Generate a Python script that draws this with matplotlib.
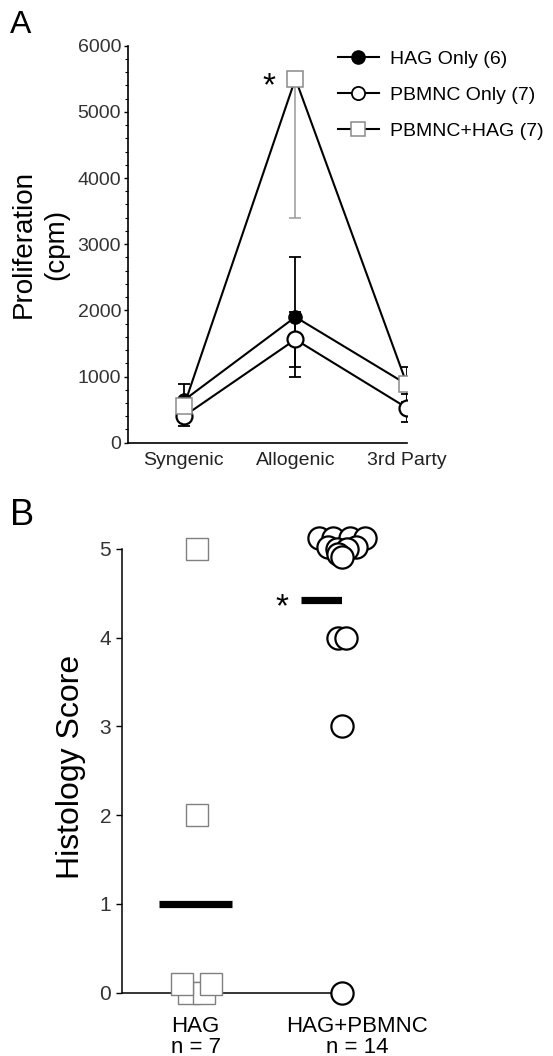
import numpy as np
import matplotlib
matplotlib.use('Agg')
import matplotlib.pyplot as plt
from matplotlib.lines import Line2D
from matplotlib.ticker import MultipleLocator

plt.rcParams['font.family'] = ['Liberation Sans', 'DejaVu Sans']

# ---------------- Panel A data ----------------
conditions = ['Syngenic', 'Allogenic', '3rd Party']
series_names = ['HAG Only (6)', 'PBMNC Only (7)', 'PBMNC+HAG (7)']
hag_only = [640, 1900, 880]
hag_only_err_lo = [250, 900, 270]
hag_only_err_hi = [250, 900, 270]
pbmnc_only = [400, 1560, 525]
pbmnc_only_err_lo = [150, 410, 210]
pbmnc_only_err_hi = [150, 410, 210]
pbmnc_hag = [550, 5500, 880]
pbmnc_hag_err_lo = [0, 2100, 0]
pbmnc_hag_err_hi = [0, 0, 0]
yticks_A = [0, 1000, 2000, 3000, 4000, 5000, 6000]

# ---------------- Panel B data ----------------
groups = ['HAG\nn = 7', 'HAG+PBMNC\nn = 14']
hag_scores = [5, 2, 0, 0, 0, 0]
hag_scores_zero_top = [0]  # stacked display of the 4 zero squares handled below
hag_all = [5, 2, 0, 0, 0, 0, 0]
hag_pbmnc_scores = [0, 3, 4, 4, 5, 5, 5, 5, 5, 5, 5, 5, 5, 5]
group_means = [1.0, 4.43]

W, H = 553, 1056
fig = plt.figure(figsize=(W / 100, H / 100), dpi=100)

def px_rect(l, t, r, b):
    return [l / W, 1 - b / H, (r - l) / W, (b - t) / H]

# ================= Panel A =================
axA = fig.add_axes(px_rect(128, 45.7, 407, 442.7))
x = np.arange(len(conditions))

# error bars
axA.errorbar(x, pbmnc_only, yerr=[pbmnc_only_err_lo, pbmnc_only_err_hi], fmt='none',
             ecolor='black', elinewidth=1.3, capsize=4.5, capthick=1.3, zorder=2)
axA.errorbar(x, hag_only, yerr=[hag_only_err_lo, hag_only_err_hi], fmt='none',
             ecolor='black', elinewidth=1.3, capsize=4.5, capthick=1.3, zorder=2)
axA.errorbar(x, pbmnc_hag, yerr=[pbmnc_hag_err_lo, pbmnc_hag_err_hi], fmt='none',
             ecolor='#9a9a9a', elinewidth=1.1, capsize=4.5, capthick=1.1, zorder=2)

axA.plot(x, pbmnc_only, '-', color='black', lw=1.5, marker='o', ms=11.5,
         mfc='white', mec='black', mew=1.6, zorder=3)
axA.plot(x, hag_only, '-', color='black', lw=1.5, marker='o', ms=9.5,
         mfc='black', mec='black', mew=1.0, zorder=4)
axA.plot(x, pbmnc_hag, '-', color='black', lw=1.5, marker='s', ms=12,
         mfc='white', mec='#8a8a8a', mew=1.1, zorder=5)

axA.set_xlim(-0.5, 2.0)
axA.set_ylim(0, 6000)
axA.set_yticks(yticks_A)
axA.yaxis.set_minor_locator(MultipleLocator(200))
axA.set_xticks(x)
axA.set_xticklabels(conditions)
for s in ['top', 'right']:
    axA.spines[s].set_visible(False)
for s in ['left', 'bottom']:
    axA.spines[s].set_linewidth(1.2)
axA.tick_params(axis='y', which='major', direction='out', length=3, width=1,
                labelsize=14, pad=2, labelcolor='#333333')
axA.tick_params(axis='y', which='minor', direction='out', length=2, width=0.8)
axA.tick_params(axis='x', length=0, pad=7, labelsize=14, labelcolor='#222222')

axA.annotate('*', xy=(1, pbmnc_hag[1]), xytext=(-19, -6), textcoords='offset points',
             ha='center', va='center', fontsize=24)

handles = [
    Line2D([], [], color='black', lw=1.5, marker='o', ms=9.5, mfc='black', mec='black'),
    Line2D([], [], color='black', lw=1.5, marker='o', ms=9.5, mfc='white', mec='black', mew=1.3),
    Line2D([], [], color='black', lw=1.5, marker='s', ms=9.5, mfc='white', mec='#8a8a8a', mew=1.1),
]
fig.legend(handles, series_names, loc='upper left',
           bbox_to_anchor=(338 / W, 1 - 50 / H), frameon=False, fontsize=14,
           handlelength=2.1, handletextpad=0.55, labelspacing=0.95, borderpad=0,
           borderaxespad=0)

fig.text(40 / W, 1 - 244 / H, 'Proliferation\n(cpm)', rotation=90, ha='center',
         va='center', fontsize=20, linespacing=1.3)
fig.text(10 / W, 1 - 10 / H, 'A', ha='left', va='top', fontsize=23)

# ================= Panel B =================
axB = fig.add_axes(px_rect(122.3, 549, 342, 992.7))
ppx = 147.0  # pixels per category unit (display spacing helper)

# HAG squares: display offsets (dx in px, dy in score units) for overlapping points
hag_offsets = [(1, 0), (1, 0), (-7, 0), (8.3, 0), (-13.3, 0.1), (15.5, 0.1), (0, 0)]
for v, (dx, dy) in list(zip(hag_all, hag_offsets))[:6]:
    axB.plot(0 + dx / ppx, v + dy, marker='s', ms=16.5, mfc='white', mec='#808080',
             mew=1.0, clip_on=False, zorder=3, ls='none')

circ_offsets = [(0, 0), (0, 0), (-4.5, 0), (4, 0),
                (-23, 0.12), (-9, 0.12), (8, 0.12), (23, 0.12),
                (-14, 0.02), (14, 0.02), (-5, 0.0), (5, 0.0),
                (-4, -0.06), (0, -0.09)]
for v, (dx, dy) in zip(hag_pbmnc_scores, circ_offsets):
    axB.plot(1 + dx / ppx, v + dy, marker='o', ms=16, mfc='white', mec='black',
             mew=1.6, clip_on=False, zorder=4, ls='none')

axB.hlines(group_means[0], 0 - 0.25, 0 + 0.25, colors='black', lw=5.2, zorder=2)
axB.hlines(group_means[1], 1 - 0.28, 1 + 0.23, colors='black', lw=5.2, zorder=2)
axB.annotate('*', xy=(1 - 0.28, group_means[1]), xytext=(-14, -6),
             textcoords='offset points', ha='center', va='center', fontsize=24)

axB.set_xlim(-0.5, 1.0)
axB.set_ylim(0, 5)
axB.set_yticks([0, 1, 2, 3, 4, 5])
axB.set_xticks([])
for s in ['top', 'right']:
    axB.spines[s].set_visible(False)
for s in ['left', 'bottom']:
    axB.spines[s].set_linewidth(1.1)
axB.tick_params(axis='y', direction='out', length=4, width=1, labelsize=15, pad=4,
                labelcolor='#333333')

label_dx = [0, 15]
for i, (g, dx) in enumerate(zip(groups, label_dx)):
    axB.annotate(g, xy=(i, 0), xycoords=('data', 'axes fraction'),
                 xytext=(dx * 0.72, -17), textcoords='offset points',
                 ha='center', va='top', fontsize=16, linespacing=0.95)

fig.text(71 / W, 1 - 767 / H, 'Histology Score', rotation=90, ha='center',
         va='center', fontsize=23)
fig.text(10 / W, 1 - 498 / H, 'B', ha='left', va='top', fontsize=26)

fig.savefig('out.png', dpi=100)
